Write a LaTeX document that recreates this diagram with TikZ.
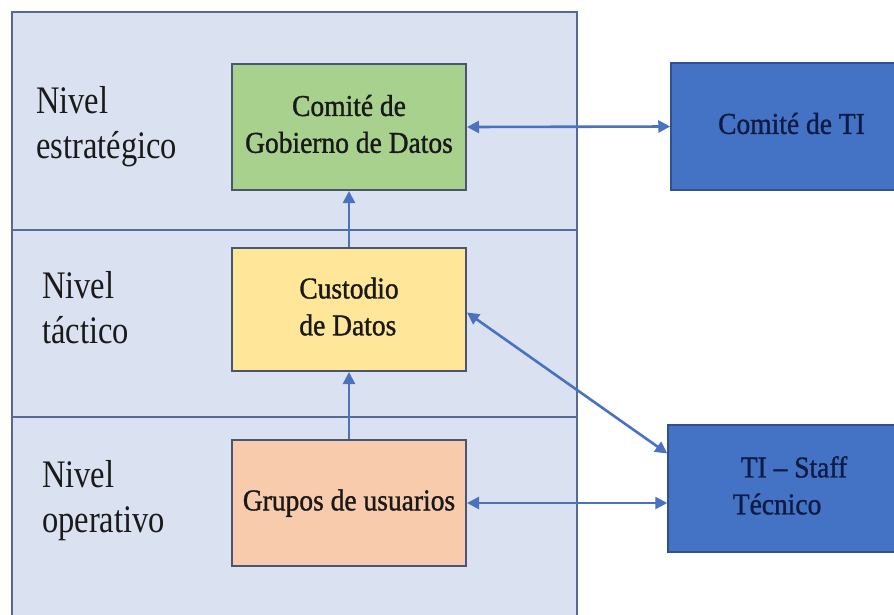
\documentclass[tikz,border=0pt]{standalone}
\usepackage{graphicx}
\usepackage{fontspec}
\setmainfont{Liberation Serif}
\newfontfamily\heavyserif[FakeBold=1.2]{Liberation Serif}
\usetikzlibrary{arrows.meta,calc}

\definecolor{panelfill}{HTML}{DAE2F2}
\definecolor{panelline}{HTML}{56699C}
\definecolor{boxline}{HTML}{4A5670}
\definecolor{greenfill}{HTML}{A9D18E}
\definecolor{yellowfill}{HTML}{FFE699}
\definecolor{orangefill}{HTML}{F8CBAD}
\definecolor{bluefill}{HTML}{4472C4}
\definecolor{blueline}{HTML}{2F528F}
\definecolor{arrowblue}{HTML}{4A72C0}
\definecolor{navytext}{HTML}{0E1C45}
\definecolor{labeltext}{HTML}{1A1A1A}

% tall text blocks: lines stacked, then stretched vertically
\newcommand\tallblock[3]{\scalebox{1}[#1]{\begin{tabular}{@{}#2@{}}#3\end{tabular}}}

\tikzset{
  levellabel/.style={anchor=west, inner sep=0pt, text=labeltext,
    font=\fontsize{32.5}{38}\selectfont},
  rolebox/.style={draw=boxline, line width=2pt, inner sep=2pt,
    text=black!90, font=\heavyserif\fontsize{27.5}{33.5}\selectfont},
  itbox/.style={draw=blueline, line width=1.5pt, fill=bluefill,
    inner sep=2pt, text=navytext, font=\heavyserif\fontsize{27.5}{33.5}\selectfont},
  link/.style={draw=arrowblue, line width=2.6pt, -{Triangle[length=12pt,width=12pt]}},
  duallink/.style={draw=arrowblue, line width=2.6pt,
    {Triangle[length=12pt,width=12pt]}-{Triangle[length=12pt,width=12pt]}},
}

\begin{document}
\begin{tikzpicture}[x=1pt, y=-1pt]
  \useasboundingbox (0,0) rectangle (894,614);

  % level panel with its three bands
  \draw[panelline, line width=2pt, fill=panelfill] (12,12) rectangle (577,630);
  \draw[panelline, line width=2pt] (12,230) -- (577,230);
  \draw[panelline, line width=2pt] (12,417) -- (577,417);

  % level names
  \node[levellabel] (lvl1) at (36,127) {\tallblock{1.2}{l}{Nivel\\estratégico}};
  \node[levellabel] (lvl2) at (42,312) {\tallblock{1.2}{l}{Nivel\\táctico}};
  \node[levellabel] (lvl3) at (42,501) {\tallblock{1.2}{l}{Nivel\\operativo}};

  % governance roles
  \node[rolebox, fill=greenfill, minimum width=234pt, minimum height=126pt]
    (gob) at (349,127) {\tallblock{1.1}{c}{Comité de\\Gobierno de Datos}};
  \node[rolebox, fill=yellowfill, minimum width=234pt, minimum height=123pt]
    (cus) at (349,309.5) {\tallblock{1.1}{l}{Custodio\\de Datos}};
  \node[rolebox, fill=orangefill, minimum width=234pt, minimum height=126pt]
    (usr) at (349,503) {\tallblock{1.1}{c}{Grupos de usuarios}};

  % IT bodies
  \node[itbox, minimum width=241pt, minimum height=127pt]
    (cti) at (791.5,126.5) {\tallblock{1.1}{c}{Comité de TI}};
  \node[itbox, minimum width=244pt, minimum height=127pt]
    (tis) at (790,488.5) {\tallblock{1.1}{l}{\hspace{8pt}TI – Staff\\Técnico}};

  % connectors
  \draw[link] (cus.north) -- (gob.south);
  \draw[link] (usr.north) -- (cus.south);
  \draw[duallink] (gob.east) -- (cti.west);
  \draw[duallink] ($(cus.east)+(0,3)$) -- ($(tis.west)+(0,-35)$);
  \draw[duallink] (usr.east) -- (tis.west |- usr.east);
\end{tikzpicture}
\end{document}
